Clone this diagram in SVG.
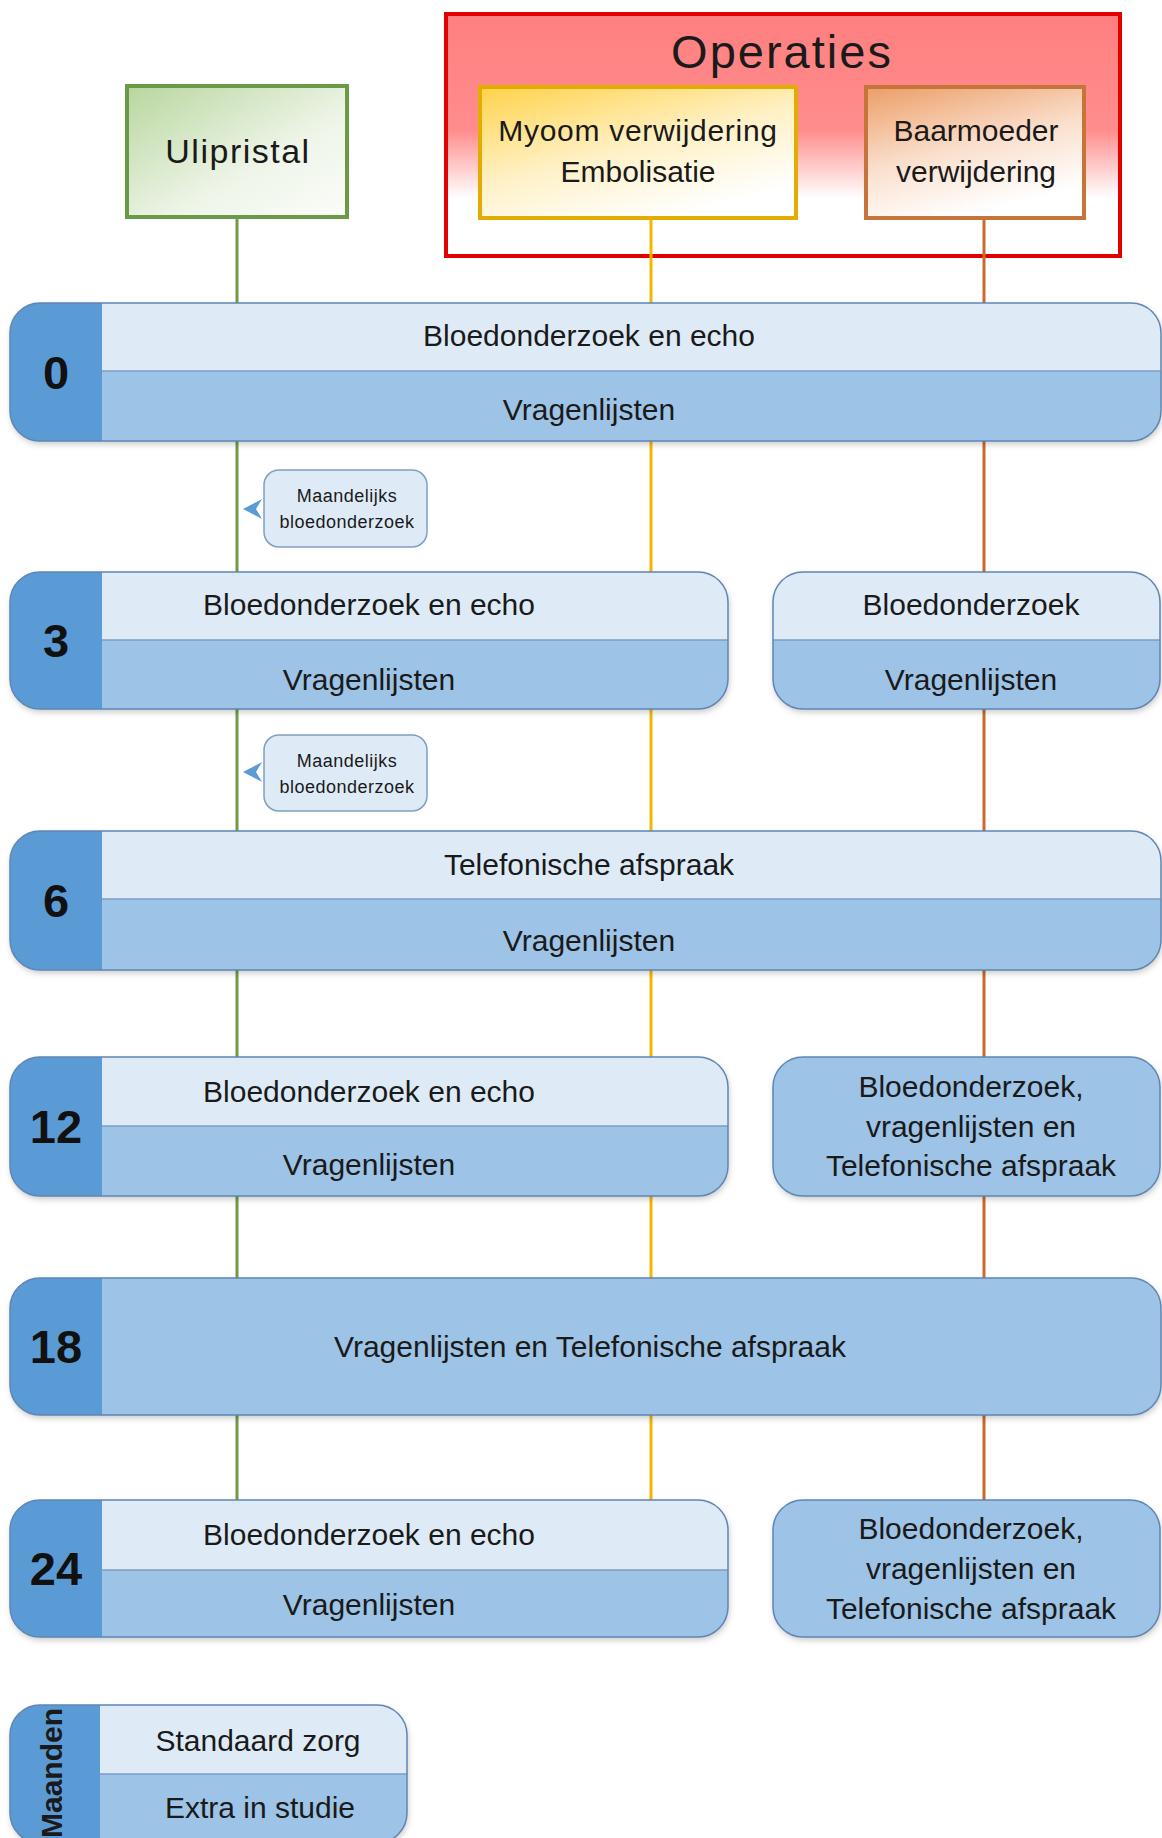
<svg xmlns="http://www.w3.org/2000/svg" width="1162" height="1838" viewBox="0 0 1162 1838">
<style>
.t{font-family:"Liberation Sans",Arial,sans-serif;font-size:30px;fill:#1a1a1a;text-anchor:middle}
.num{font-weight:bold;font-size:47px;fill:#111}
.small{font-size:18px;letter-spacing:0.5px}
.tab{fill:#5b9bd5}
.up{fill:#deebf7}
.lo{fill:#9dc3e6}
.base{fill:#9dc3e6;filter:url(#sh)}
.ol{fill:none;stroke:#5f86b4;stroke-width:1.5}
.dv{stroke:#7b9dc7;stroke-width:1.5}
.ln{stroke-width:3;fill:none}
.g{stroke:#6f9c45}
.y{stroke:#f2b800}
.o{stroke:#c96a2d}
</style>
<defs>
<filter id="sh" x="-5%" y="-10%" width="110%" height="130%">
<feDropShadow dx="1" dy="3" stdDeviation="3" flood-color="#000" flood-opacity="0.22"/>
</filter>
<linearGradient id="gRed" x1="0" y1="0" x2="0" y2="1">
<stop offset="0" stop-color="#ff7f7f"/>
<stop offset="0.48" stop-color="#ff8d8d"/>
<stop offset="0.76" stop-color="#ffffff"/>
<stop offset="1" stop-color="#ffffff"/>
</linearGradient>
<linearGradient id="gGreen" x1="0" y1="0" x2="1" y2="1">
<stop offset="0" stop-color="#b8d69e"/>
<stop offset="0.6" stop-color="#eef5e8"/>
<stop offset="1" stop-color="#fbfdf9"/>
</linearGradient>
<linearGradient id="gYel" x1="0" y1="0" x2="0.6" y2="1">
<stop offset="0" stop-color="#ffd24a"/>
<stop offset="0.55" stop-color="#fff1c6"/>
<stop offset="1" stop-color="#ffffff"/>
</linearGradient>
<linearGradient id="gOr" x1="0" y1="0" x2="0.4" y2="1">
<stop offset="0" stop-color="#ec9d66"/>
<stop offset="0.55" stop-color="#fadfcc"/>
<stop offset="1" stop-color="#ffffff"/>
</linearGradient>
<clipPath id="c0"><rect x="10" y="303" width="1151" height="138" rx="30"/></clipPath>
<clipPath id="c3L"><rect x="10" y="572" width="718" height="137" rx="30"/></clipPath>
<clipPath id="c3R"><rect x="773" y="572" width="387" height="137" rx="30"/></clipPath>
<clipPath id="c6"><rect x="10" y="831" width="1151" height="139" rx="30"/></clipPath>
<clipPath id="c12L"><rect x="10" y="1057" width="718" height="139" rx="30"/></clipPath>
<clipPath id="c18"><rect x="10" y="1278" width="1151" height="137" rx="30"/></clipPath>
<clipPath id="c24L"><rect x="10" y="1500" width="718" height="137" rx="30"/></clipPath>
<clipPath id="cLeg"><rect x="10" y="1705" width="397" height="138" rx="30"/></clipPath>
</defs>
<rect width="1162" height="1838" fill="#ffffff"/>

<g id="operaties">
<rect x="446" y="14" width="674" height="242" fill="url(#gRed)" stroke="#e30000" stroke-width="4"/>
<text class="t" x="782" y="68" style="font-size:47px;letter-spacing:2px">Operaties</text>
</g>
<g id="ulipristal">
<rect x="127" y="86" width="220" height="131" fill="url(#gGreen)" stroke="#6a9a46" stroke-width="4"/>
<text class="t" x="238" y="163" style="font-size:34px;letter-spacing:1.5px">Ulipristal</text>
</g>
<g id="myoom">
<rect x="480" y="87" width="316" height="131" fill="url(#gYel)" stroke="#e2ad00" stroke-width="4"/>
<text class="t" x="638" y="141" style="letter-spacing:0.7px">Myoom verwijdering</text>
<text class="t" x="638" y="182">Embolisatie</text>
</g>
<g id="baarmoeder">
<rect x="866" y="87" width="218" height="131" fill="url(#gOr)" stroke="#c7743a" stroke-width="4"/>
<text class="t" x="976" y="141">Baarmoeder</text>
<text class="t" x="976" y="182">verwijdering</text>
</g>

<g id="connectors">
<path class="ln g" d="M237 219V303M237 441V572M237 709V831M237 970V1057M237 1196V1278M237 1415V1500"/>
<path class="ln y" d="M651 220V303M651 441V572M651 709V831M651 970V1057M651 1196V1278M651 1415V1500"/>
<path class="ln o" d="M984 220V303M984 441V572M984 709V831M984 970V1057M984 1196V1278M984 1415V1500"/>
</g>

<g id="row-0">
<rect class="base" x="10" y="303" width="1151" height="138" rx="30"/>
<g clip-path="url(#c0)">
<rect class="up" x="10" y="303" width="1151" height="68"/>
<rect class="lo" x="10" y="371" width="1151" height="70"/>
<rect class="tab" x="10" y="303" width="92" height="138"/>
</g>
<line class="dv" x1="102" y1="371" x2="1161" y2="371"/>
<rect class="ol" x="10" y="303" width="1151" height="138" rx="30"/>
<text class="t num" x="56" y="389">0</text>
<text class="t" x="589" y="346">Bloedonderzoek en echo</text>
<text class="t" x="589" y="420">Vragenlijsten</text>
</g>

<g id="callout-1">
<rect x="264" y="470" width="163" height="77" rx="15" fill="#deebf7" stroke="#7f9fc0" stroke-width="1.5"/>
<polygon points="262,499 243,509 262,519 256,509" fill="#5b9bd5"/>
<text class="t small" x="347" y="502">Maandelijks</text>
<text class="t small" x="347" y="528">bloedonderzoek</text>
</g>

<g id="row-3">
<rect class="base" x="10" y="572" width="718" height="137" rx="30"/>
<g clip-path="url(#c3L)">
<rect class="up" x="10" y="572" width="718" height="68"/>
<rect class="lo" x="10" y="640" width="718" height="69"/>
<rect class="tab" x="10" y="572" width="92" height="137"/>
</g>
<line class="dv" x1="102" y1="640" x2="728" y2="640"/>
<rect class="ol" x="10" y="572" width="718" height="137" rx="30"/>
<text class="t num" x="56" y="657">3</text>
<text class="t" x="369" y="615">Bloedonderzoek en echo</text>
<text class="t" x="369" y="690">Vragenlijsten</text>
</g>
<g id="row-3-right">
<rect class="base" x="773" y="572" width="387" height="137" rx="30"/>
<g clip-path="url(#c3R)">
<rect class="up" x="773" y="572" width="387" height="68"/>
<rect class="lo" x="773" y="640" width="387" height="69"/>
</g>
<line class="dv" x1="773" y1="640" x2="1160" y2="640"/>
<rect class="ol" x="773" y="572" width="387" height="137" rx="30"/>
<text class="t" x="971" y="615">Bloedonderzoek</text>
<text class="t" x="971" y="690">Vragenlijsten</text>
</g>

<g id="callout-2">
<rect x="264" y="735" width="163" height="76" rx="15" fill="#deebf7" stroke="#7f9fc0" stroke-width="1.5"/>
<polygon points="262,762 243,772 262,782 256,772" fill="#5b9bd5"/>
<text class="t small" x="347" y="767">Maandelijks</text>
<text class="t small" x="347" y="793">bloedonderzoek</text>
</g>

<g id="row-6">
<rect class="base" x="10" y="831" width="1151" height="139" rx="30"/>
<g clip-path="url(#c6)">
<rect class="up" x="10" y="831" width="1151" height="68"/>
<rect class="lo" x="10" y="899" width="1151" height="71"/>
<rect class="tab" x="10" y="831" width="92" height="139"/>
</g>
<line class="dv" x1="102" y1="899" x2="1161" y2="899"/>
<rect class="ol" x="10" y="831" width="1151" height="139" rx="30"/>
<text class="t num" x="56" y="917">6</text>
<text class="t" x="589" y="875">Telefonische afspraak</text>
<text class="t" x="589" y="951">Vragenlijsten</text>
</g>

<g id="row-12">
<rect class="base" x="10" y="1057" width="718" height="139" rx="30"/>
<g clip-path="url(#c12L)">
<rect class="up" x="10" y="1057" width="718" height="69"/>
<rect class="lo" x="10" y="1126" width="718" height="70"/>
<rect class="tab" x="10" y="1057" width="92" height="139"/>
</g>
<line class="dv" x1="102" y1="1126" x2="728" y2="1126"/>
<rect class="ol" x="10" y="1057" width="718" height="139" rx="30"/>
<text class="t num" x="56" y="1143">12</text>
<text class="t" x="369" y="1102">Bloedonderzoek en echo</text>
<text class="t" x="369" y="1175">Vragenlijsten</text>
</g>
<g id="row-12-right">
<rect class="base" x="773" y="1057" width="387" height="139" rx="30"/>
<rect class="ol" x="773" y="1057" width="387" height="139" rx="30"/>
<text class="t" x="971" y="1097">Bloedonderzoek,</text>
<text class="t" x="971" y="1137">vragenlijsten en</text>
<text class="t" x="971" y="1176">Telefonische afspraak</text>
</g>

<g id="row-18">
<rect class="base" x="10" y="1278" width="1151" height="137" rx="30"/>
<g clip-path="url(#c18)">
<rect class="tab" x="10" y="1278" width="92" height="137"/>
</g>
<rect class="ol" x="10" y="1278" width="1151" height="137" rx="30"/>
<text class="t num" x="56" y="1363">18</text>
<text class="t" x="590" y="1357">Vragenlijsten en Telefonische afspraak</text>
</g>

<g id="row-24">
<rect class="base" x="10" y="1500" width="718" height="137" rx="30"/>
<g clip-path="url(#c24L)">
<rect class="up" x="10" y="1500" width="718" height="70"/>
<rect class="lo" x="10" y="1570" width="718" height="67"/>
<rect class="tab" x="10" y="1500" width="92" height="137"/>
</g>
<line class="dv" x1="102" y1="1570" x2="728" y2="1570"/>
<rect class="ol" x="10" y="1500" width="718" height="137" rx="30"/>
<text class="t num" x="56" y="1585">24</text>
<text class="t" x="369" y="1545">Bloedonderzoek en echo</text>
<text class="t" x="369" y="1615">Vragenlijsten</text>
</g>
<g id="row-24-right">
<rect class="base" x="773" y="1500" width="387" height="137" rx="30"/>
<rect class="ol" x="773" y="1500" width="387" height="137" rx="30"/>
<text class="t" x="971" y="1539">Bloedonderzoek,</text>
<text class="t" x="971" y="1579">vragenlijsten en</text>
<text class="t" x="971" y="1619">Telefonische afspraak</text>
</g>

<g id="legend">
<rect class="base" x="10" y="1705" width="397" height="138" rx="30"/>
<g clip-path="url(#cLeg)">
<rect class="up" x="10" y="1705" width="397" height="69"/>
<rect class="lo" x="10" y="1774" width="397" height="69"/>
<rect class="tab" x="10" y="1705" width="90" height="138"/>
</g>
<line class="dv" x1="100" y1="1774" x2="407" y2="1774"/>
<rect class="ol" x="10" y="1705" width="397" height="138" rx="30"/>
<text class="t" x="0" y="0" transform="translate(62 1773) rotate(-90)" style="font-weight:bold">Maanden</text>
<text class="t" x="258" y="1751">Standaard zorg</text>
<text class="t" x="260" y="1818">Extra in studie</text>
</g>
</svg>
